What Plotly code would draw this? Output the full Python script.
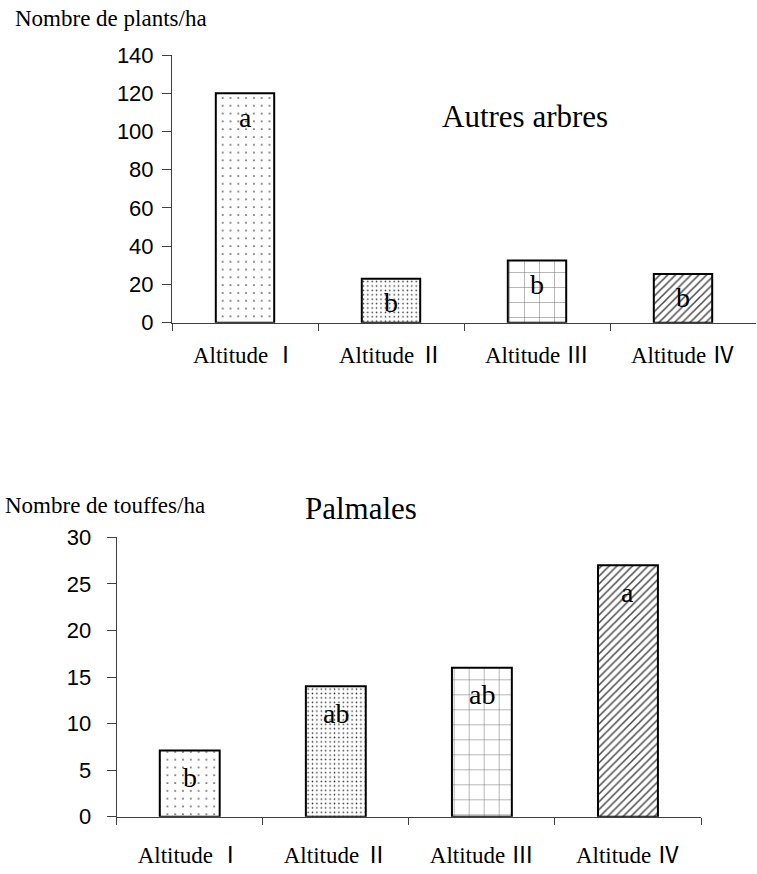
import plotly.graph_objects as go

# Data
categories = ["Altitude Ⅰ", "Altitude Ⅱ", "Altitude Ⅲ", "Altitude Ⅳ"]
autres_arbres = [120, 23, 32.5, 25.5]          # plants/ha
palmales = [7.1, 14, 16, 27]                   # touffes/ha
groupes_autres = ["a", "b", "b", "b"]
groupes_palmales = ["b", "ab", "ab", "a"]
ticks_autres = [0, 20, 40, 60, 80, 100, 120, 140]
ticks_palmales = [0, 5, 10, 15, 20, 25, 30]

W, H = 757, 874
SERIF = "Liberation Serif, Times New Roman, serif"
LABEL_FONT = "Liberation Serif, Noto Sans CJK JP, serif"
SANS = "Liberation Sans, Arial, sans-serif"
AXC = "#404040"

# One fill pattern per altitude class
pattern = dict(
    shape=[".", ".", "+", "/"],
    size=[7.8, 4.4, 15, 5.5],
    solidity=[0.035, 0.1, 0.07, 0.28],
    fgcolor=["#222222", "#333333", "#777777", "#4a4a4a"],
    bgcolor="white",
    fillmode="replace",
)

fig = go.Figure()
fig.add_trace(go.Bar(x=categories, y=autres_arbres, width=0.4,
                     marker=dict(color="white", pattern=pattern,
                                 line=dict(color="black", width=2)),
                     xaxis="x", yaxis="y", hoverinfo="skip"))
fig.add_trace(go.Bar(x=categories, y=palmales, width=0.41,
                     marker=dict(color="white", pattern=pattern,
                                 line=dict(color="black", width=2)),
                     xaxis="x2", yaxis="y2", hoverinfo="skip"))

def px_x(p):
    return p / W

def px_y(p):
    return 1 - p / H

xcommon = dict(type="category", range=[-0.5, 3.5], tickson="boundaries",
               ticks="outside", ticklen=7, tickcolor=AXC, showline=True,
               linecolor=AXC, linewidth=1, showgrid=False, zeroline=False,
               automargin=False,
               tickfont=dict(family=LABEL_FONT, size=23, color="black"))
ycommon = dict(ticks="outside", tickcolor=AXC, showline=True, linecolor=AXC,
               linewidth=1, showgrid=False, zeroline=False, automargin=False,
               tickfont=dict(family=SANS, size=22, color="black"))

fig.update_layout(
    template="none",
    width=W, height=H, margin=dict(l=0, r=0, t=0, b=0, pad=0),
    paper_bgcolor="white", plot_bgcolor="white", showlegend=False,
    xaxis=dict(domain=[px_x(172), px_x(756)], anchor="y",
               ticklabelstandoff=12, **xcommon),
    yaxis=dict(domain=[px_y(322.7), px_y(55)], anchor="x", range=[0, 140],
               tickvals=ticks_autres, ticklen=9, ticklabelstandoff=4, **ycommon),
    xaxis2=dict(domain=[px_x(116.7), px_x(701)], anchor="y2",
                ticklabelstandoff=18, **xcommon),
    yaxis2=dict(domain=[px_y(816.7), px_y(537.3)], anchor="x2", range=[0, 30],
                tickvals=ticks_palmales, ticklen=9, ticklabelstandoff=11, **ycommon),
)

ann = []
# Significance letters inside the bars
for cat, val, lab in zip(categories, autres_arbres, groupes_autres):
    ann.append(dict(x=cat, y=val, xref="x", yref="y", text=lab, showarrow=False,
                    yanchor="middle", yshift=-24,
                    font=dict(family=SERIF, size=28, color="black")))
for cat, val, lab in zip(categories, palmales, groupes_palmales):
    ann.append(dict(x=cat, y=val, xref="x2", yref="y2", text=lab, showarrow=False,
                    yanchor="middle", yshift=-27,
                    font=dict(family=SERIF, size=28, color="black")))

# Panel titles and axis titles
ann += [
    dict(x=px_x(13), y=px_y(18), xref="paper", yref="paper", xanchor="left",
         yanchor="middle", text="Nombre de plants/ha", showarrow=False,
         font=dict(family=SERIF, size=23, color="black")),
    dict(x=px_x(3), y=px_y(505), xref="paper", yref="paper", xanchor="left",
         yanchor="middle", text="Nombre de touffes/ha", showarrow=False,
         font=dict(family=SERIF, size=23, color="black")),
    dict(x=px_x(525), y=px_y(116), xref="paper", yref="paper", xanchor="center",
         yanchor="middle", text="Autres arbres", showarrow=False,
         font=dict(family=SERIF, size=31, color="black")),
    dict(x=px_x(361), y=px_y(509), xref="paper", yref="paper", xanchor="center",
         yanchor="middle", text="Palmales", showarrow=False,
         font=dict(family=SERIF, size=31, color="black")),
]
fig.update_layout(annotations=ann)

fig.write_html("out.html")
